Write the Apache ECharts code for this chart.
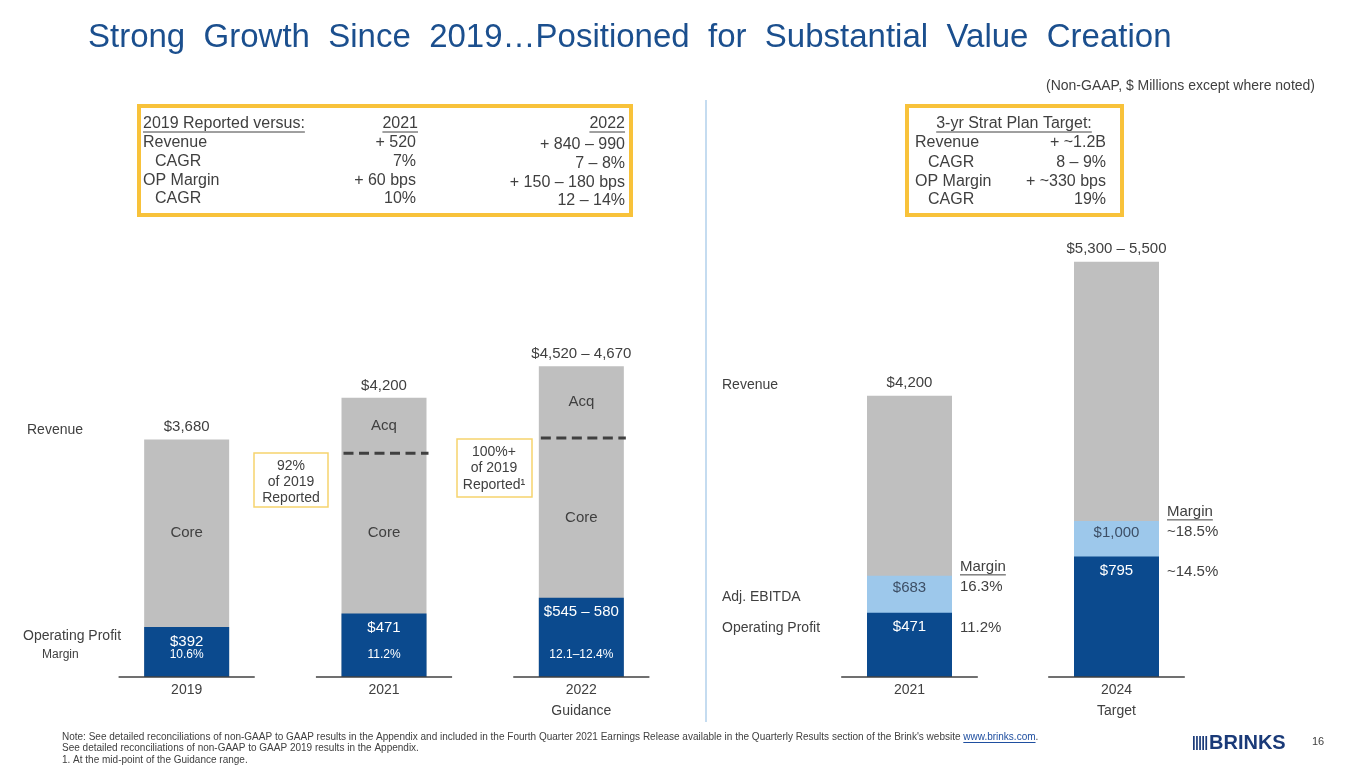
<!DOCTYPE html>
<html><head><meta charset="utf-8">
<script src="https://cdn.jsdelivr.net/npm/echarts@6/dist/echarts.min.js"></script>
<style>html,body{margin:0;padding:0;background:#fff}#c{width:1365px;height:768px}</style>
</head><body><div id="c"></div>
<script>
// ---------- DATA ----------
const leftCats = ['2019', '2021', '2022\nGuidance'];
const leftRevenueLow = [3680, 4200, 4520];
const leftRevenueHigh = [3680, 4200, 4670];
const leftCoreRevenue = [3680, 3510, 3700];
const leftOpLow = [392, 471, 545];
const leftOpHigh = [392, 471, 580];
const leftOpMargin = ['10.6%', '11.2%', '12.1–12.4%'];

const rightCats = ['2021', '2024\nTarget'];
const rightRevenueLow = [4200, 5300];
const rightRevenueHigh = [4200, 5500];
const rightEbitda = [683, 1000];
const rightOp = [471, 795];
const rightEbitdaMargin = ['16.3%', '~18.5%'];
const rightOpMargin = ['11.2%', '~14.5%'];

const leftBoxHeader = ['2019 Reported versus:', '2021', '2022'];
const leftBoxLabels = ['Revenue', 'CAGR', 'OP Margin', 'CAGR'];
const leftBox2021 = ['+ 520', '7%', '+ 60 bps', '10%'];
const leftBox2022 = ['+ 840 – 990', '7 – 8%', '+ 150 – 180 bps', '12 – 14%'];
const rightBoxHeader = '3-yr Strat Plan Target:';
const rightBoxLabels = ['Revenue', 'CAGR', 'OP Margin', 'CAGR'];
const rightBoxValues = ['+ ~1.2B', '8 – 9%', '+ ~330 bps', '19%'];

// ---------- STYLE / SCALES ----------
const FONT = '"Liberation Sans", Arial, sans-serif';
const TXT = '#404040';
const GRAY = '#BFBFBF', BLUE = '#0B4A8E', LBLUE = '#9DC8EB';
const LREV = {min: 720, max: 5420}, LPRO = {min: 100, max: 2300};
const RREV = {min: 1680, max: 5720}, RPRO = {min: 100, max: 2700};
const BW = 85;

const mid = (a, b) => (a + b) / 2;
const fmt = v => v.toLocaleString('en-US');
const rangeLabel = (lo, hi) => lo === hi ? '$' + fmt(lo) : '$' + fmt(lo) + ' – ' + fmt(hi);
const proToRev = (v, rev, pro) => rev.min + (v - pro.min) / (pro.max - pro.min) * (rev.max - rev.min);
const mctx = document.createElement('canvas').getContext('2d');
const tw = (t, font) => { mctx.font = font; return mctx.measureText(t).width; };

function T(x, y, text, o) {
  o = o || {};
  return {type: 'text', x: x, y: y, z: 10, silent: true, scaleX: o.sx || 1,
    style: {text: text, fill: o.fill || TXT, font: o.font || ('15px ' + FONT),
      align: o.align || 'left', verticalAlign: 'middle'}};
}
function U(x1, x2, y, c) {
  return {type: 'line', z: 10, silent: true, shape: {x1: x1, y1: y, x2: x2, y2: y}, style: {stroke: c || TXT, lineWidth: 1}};
}

// ---------- GRAPHICS (text boxes, notes) ----------
const g = [];
g.push(T(88, 38, 'Strong  Growth  Since  2019…Positioned  for  Substantial  Value  Creation', {fill: '#1B4F8E', font: '33px ' + FONT}));
g.push(T(1315, 86, '(Non-GAAP, $ Millions except where noted)', {align: 'right', font: '14px ' + FONT}));
// separator
g.push({type: 'line', shape: {x1: 706, y1: 100, x2: 706, y2: 722}, style: {stroke: '#C5DCF0', lineWidth: 2}});
// left box
const BF = '16px ' + FONT;
g.push({type: 'rect', shape: {x: 139, y: 106, width: 492, height: 109}, style: {fill: 'none', stroke: '#F8C23A', lineWidth: 4}});
g.push(T(143, 124, leftBoxHeader[0], {font: BF}), U(143, 143 + tw(leftBoxHeader[0], BF), 132));
g.push(T(418, 124, leftBoxHeader[1], {font: BF, align: 'right'}), U(418 - tw(leftBoxHeader[1], BF), 418, 132));
g.push(T(625, 124, leftBoxHeader[2], {font: BF, align: 'right'}), U(625 - tw(leftBoxHeader[2], BF), 625, 132));
const rowsY = [143, 162, 181, 199];
leftBoxLabels.forEach((l, k) => {
  g.push(T(l === 'CAGR' ? 155 : 143, rowsY[k], l, {font: BF}));
  g.push(T(416, rowsY[k], leftBox2021[k], {font: BF, align: 'right'}));
  g.push(T(625, rowsY[k] + 2, leftBox2022[k], {font: BF, align: 'right'}));
});
// right box
g.push({type: 'rect', shape: {x: 907, y: 106, width: 215, height: 109}, style: {fill: 'none', stroke: '#F8C23A', lineWidth: 4}});
const rhw = tw(rightBoxHeader, BF);
g.push(T(1014, 124, rightBoxHeader, {font: BF, align: 'center'}), U(1014 - rhw / 2, 1014 + rhw / 2, 132));
const rRowsY = [143, 163, 182, 200];
rightBoxLabels.forEach((l, k) => {
  g.push(T(l === 'CAGR' ? 928 : 915, rRowsY[k], l, {font: BF}));
  g.push(T(1106, rRowsY[k], rightBoxValues[k], {font: BF, align: 'right'}));
});
// small callouts
const CF = '14px ' + FONT;
g.push({type: 'rect', shape: {x: 254, y: 453, width: 74, height: 54}, style: {fill: '#fff', stroke: '#F6D46E', lineWidth: 1.5}});
g.push(T(291, 466, '92%', {align: 'center', font: CF}), T(291, 482, 'of 2019', {align: 'center', font: CF}), T(291, 498, 'Reported', {align: 'center', font: CF}));
g.push({type: 'rect', shape: {x: 457, y: 439, width: 75, height: 58}, style: {fill: '#fff', stroke: '#F6D46E', lineWidth: 1.5}});
g.push(T(494, 452, '100%+', {align: 'center', font: CF}), T(494, 468, 'of 2019', {align: 'center', font: CF}), T(494, 485, 'Reported¹', {align: 'center', font: CF}));
// row labels
g.push(T(27, 430, 'Revenue', {font: CF}));
g.push(T(23, 636, 'Operating Profit', {font: CF}));
g.push(T(42, 655, 'Margin', {font: '12px ' + FONT}));
g.push(T(722, 385, 'Revenue', {font: CF}));
g.push(T(722, 597, 'Adj. EBITDA', {font: CF}));
g.push(T(722, 628, 'Operating Profit', {font: CF}));
// footnotes
const NF = '10px ' + FONT;
const note1a = 'Note: See detailed reconciliations of non-GAAP to GAAP results in the Appendix and included in the Fourth Quarter 2021 Earnings Release available in the Quarterly Results section of the Brink\'s website ';
const w1 = tw(note1a, NF), wl = tw('www.brinks.com', NF);
g.push(T(62, 737, note1a, {font: NF}));
g.push(T(62 + w1, 737, 'www.brinks.com', {font: NF, fill: '#1F4FA0'}), U(62 + w1, 62 + w1 + wl, 742.5, '#1F4FA0'));
g.push(T(62 + w1 + wl, 737, '.', {font: NF}));
g.push(T(62, 748, 'See detailed reconciliations of non-GAAP to GAAP 2019 results in the Appendix.', {font: NF}));
g.push(T(62, 760, '1. At the mid-point of the Guidance range.', {font: NF}));
// logo
for (let k = 0; k < 5; k++) g.push({type: 'rect', shape: {x: 1193 + k * 3.1, y: 736, width: 1.7, height: 14}, style: {fill: '#1A3A78'}});
g.push(T(1209, 743, 'BRINKS', {font: 'bold 20px ' + FONT, fill: '#1A3A78'}));
g.push(T(1312, 742, '16', {font: '11px ' + FONT}));

// ---------- CUSTOM RENDERERS ----------
function leftAnno(params, api) {
  const i = params.dataIndex;
  const base = api.coord([i, LREV.min]);
  const cx = base[0], by = base[1];
  const total = api.value(1);
  const topY = api.coord([i, total])[1];
  const core = leftCoreRevenue[i];
  const coreY = api.coord([i, core])[1];
  const opY = api.coord([i, proToRev(mid(leftOpLow[i], leftOpHigh[i]), LREV, LPRO)])[1];
  const segW = api.size([1, 0])[0] * 0.69;
  const ch = [];
  ch.push({type: 'line', shape: {x1: cx - segW / 2, y1: by, x2: cx + segW / 2, y2: by}, style: {stroke: TXT, lineWidth: 1.5}});
  const hasAcq = core < total;
  if (hasAcq) {
    ch.push({type: 'line', shape: {x1: cx - BW / 2 + 2, y1: coreY, x2: cx + BW / 2 + 2, y2: coreY}, style: {stroke: TXT, lineWidth: 3, lineDash: [10, 5.5]}});
    ch.push({type: 'text', style: {text: 'Acq', x: cx, y: (topY + coreY) / 2, fill: TXT, font: '15px ' + FONT, align: 'center', verticalAlign: 'middle'}});
  }
  ch.push({type: 'text', style: {text: 'Core', x: cx, y: (opY + (hasAcq ? coreY : topY)) / 2, fill: TXT, font: '15px ' + FONT, align: 'center', verticalAlign: 'middle'}});
  ch.push({type: 'text', style: {text: leftOpMargin[i], x: cx, y: by - 22, fill: '#fff', font: '12px ' + FONT, align: 'center', verticalAlign: 'middle'}});
  return {type: 'group', children: ch};
}
function rightAnno(params, api) {
  const i = params.dataIndex;
  const base = api.coord([i, RREV.min]);
  const cx = base[0], by = base[1];
  const ebY = api.coord([i, proToRev(rightEbitda[i], RREV, RPRO)])[1];
  const opY = api.coord([i, proToRev(rightOp[i], RREV, RPRO)])[1];
  const segW = api.size([1, 0])[0] * 0.66;
  const tx = cx + BW / 2 + 8;
  const F = '15px ' + FONT;
  const ch = [];
  ch.push({type: 'line', shape: {x1: cx - segW / 2, y1: by, x2: cx + segW / 2, y2: by}, style: {stroke: TXT, lineWidth: 1.5}});
  ch.push({type: 'text', style: {text: 'Margin', x: tx, y: ebY - 9, fill: TXT, font: F, align: 'left', verticalAlign: 'middle'}});
  ch.push({type: 'line', shape: {x1: tx, y1: ebY - 1, x2: tx + tw('Margin', F), y2: ebY - 1}, style: {stroke: TXT, lineWidth: 1}});
  ch.push({type: 'text', style: {text: rightEbitdaMargin[i], x: tx, y: ebY + 11, fill: TXT, font: F, align: 'left', verticalAlign: 'middle'}});
  ch.push({type: 'text', style: {text: rightOpMargin[i], x: tx, y: opY + 15, fill: TXT, font: F, align: 'left', verticalAlign: 'middle'}});
  return {type: 'group', children: ch};
}

const catAxis = (gi, data) => ({type: 'category', gridIndex: gi, data: data,
  axisLine: {show: false}, axisTick: {show: false},
  axisLabel: {color: TXT, fontSize: 14, fontFamily: FONT, margin: 3, lineHeight: 21}});
const valAxis = (gi, s) => ({type: 'value', gridIndex: gi, min: s.min, max: s.max, show: false, splitLine: {show: false}});

const option = {
  animation: false,
  backgroundColor: '#fff',
  grid: [
    {left: 88, width: 592, top: 300, bottom: 91},
    {left: 806, width: 414, top: 226, bottom: 91}
  ],
  xAxis: [catAxis(0, leftCats), catAxis(1, rightCats)],
  yAxis: [valAxis(0, LREV), valAxis(0, LPRO), valAxis(1, RREV), valAxis(1, RPRO)],
  graphic: g,
  series: [
    {name: 'Revenue', type: 'bar', xAxisIndex: 0, yAxisIndex: 0, barWidth: BW, barGap: '-100%',
     data: leftRevenueLow.map((v, i) => mid(v, leftRevenueHigh[i])), itemStyle: {color: GRAY},
     label: {show: true, position: 'top', distance: 5, color: TXT, fontSize: 15, fontFamily: FONT,
       formatter: p => rangeLabel(leftRevenueLow[p.dataIndex], leftRevenueHigh[p.dataIndex])}},
    {name: 'Operating Profit', type: 'bar', xAxisIndex: 0, yAxisIndex: 1, barWidth: BW, barGap: '-100%',
     data: leftOpLow.map((v, i) => mid(v, leftOpHigh[i])), itemStyle: {color: BLUE},
     label: {show: true, position: 'insideTop', distance: 7, color: '#fff', fontSize: 15, fontFamily: FONT,
       formatter: p => rangeLabel(leftOpLow[p.dataIndex], leftOpHigh[p.dataIndex])}},
    {name: 'leftAnno', type: 'custom', xAxisIndex: 0, yAxisIndex: 0, z: 5, silent: true,
     data: leftCats.map((c, i) => [i, mid(leftRevenueLow[i], leftRevenueHigh[i])]), renderItem: leftAnno},
    {name: 'Revenue R', type: 'bar', xAxisIndex: 1, yAxisIndex: 2, barWidth: BW, barGap: '-100%',
     data: rightRevenueLow.map((v, i) => mid(v, rightRevenueHigh[i])), itemStyle: {color: GRAY},
     label: {show: true, position: 'top', distance: 5, color: TXT, fontSize: 15, fontFamily: FONT,
       formatter: p => rangeLabel(rightRevenueLow[p.dataIndex], rightRevenueHigh[p.dataIndex])}},
    {name: 'Adj. EBITDA', type: 'bar', xAxisIndex: 1, yAxisIndex: 3, barWidth: BW, barGap: '-100%',
     data: rightEbitda, itemStyle: {color: LBLUE},
     label: {show: true, position: 'insideTop', distance: 4, color: '#3D4F66', fontSize: 15, fontFamily: FONT,
       formatter: p => '$' + fmt(p.value)}},
    {name: 'Operating Profit R', type: 'bar', xAxisIndex: 1, yAxisIndex: 3, barWidth: BW, barGap: '-100%',
     data: rightOp, itemStyle: {color: BLUE},
     label: {show: true, position: 'insideTop', distance: 7, color: '#fff', fontSize: 15, fontFamily: FONT,
       formatter: p => '$' + fmt(p.value)}},
    {name: 'rightAnno', type: 'custom', xAxisIndex: 1, yAxisIndex: 2, z: 5, silent: true,
     data: rightCats.map((c, i) => [i, mid(rightRevenueLow[i], rightRevenueHigh[i])]), renderItem: rightAnno}
  ]
};
const chart = echarts.init(document.getElementById('c'));
chart.setOption(option);
</script></body></html>
